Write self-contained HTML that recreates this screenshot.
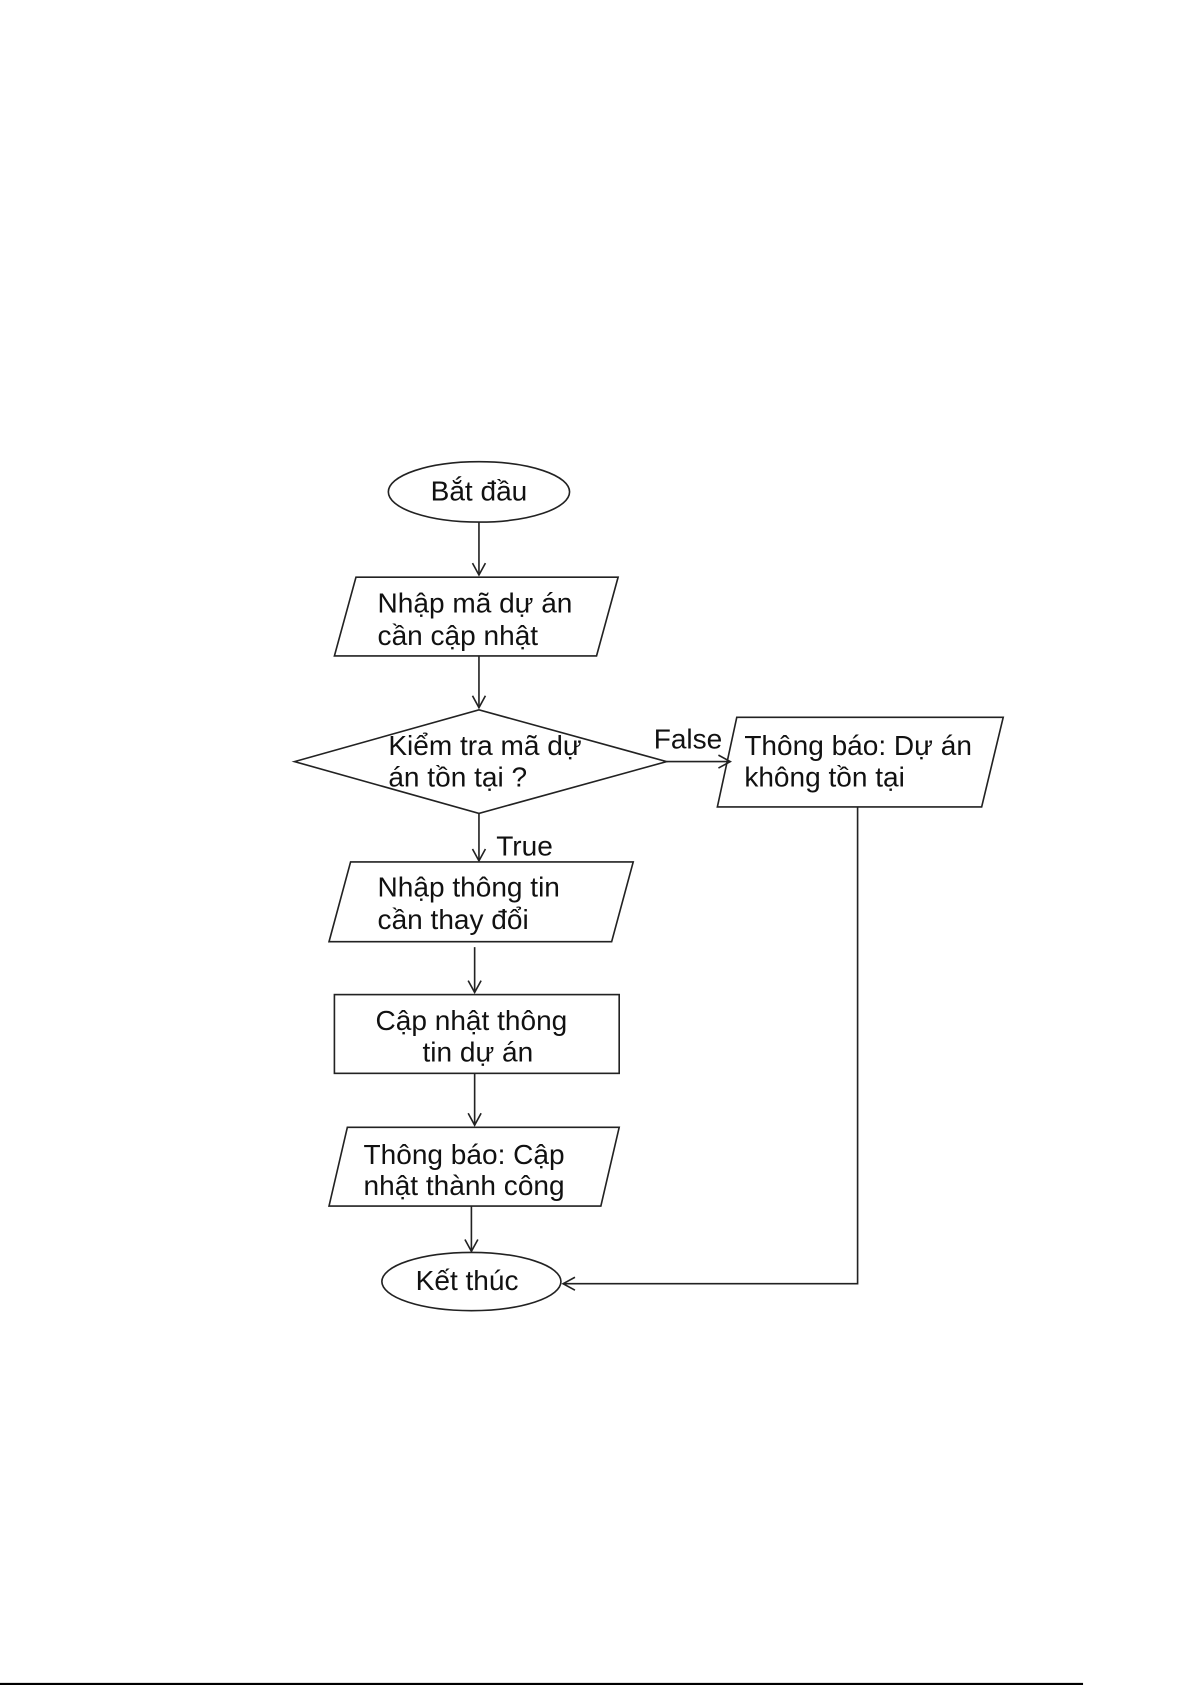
<!DOCTYPE html>
<html><head><meta charset="utf-8"><style>html,body{margin:0;padding:0;background:#fff;}svg{display:block}</style></head>
<body>
<svg width="1192" height="1685" viewBox="0 0 1105 1562" xmlns="http://www.w3.org/2000/svg" font-family="Liberation Sans, Arial, sans-serif" font-size="26" fill="none" stroke="#222" stroke-width="1.5">
<defs><marker id="a" markerWidth="14" markerHeight="14" refX="12" refY="7" orient="auto" markerUnits="userSpaceOnUse"><path d="M1,1 L12,7 L1,13" fill="none" stroke="#222" stroke-width="1.5"/></marker></defs>
<ellipse cx="444" cy="456" rx="84" ry="28"/>
<line x1="444" y1="484" x2="444" y2="533" marker-end="url(#a)"/>
<polygon points="330,535 573,535 553,608 310,608"/>
<line x1="444" y1="608" x2="444" y2="656" marker-end="url(#a)"/>
<polygon points="273,706 444,658 618,706 444,754"/>
<line x1="618" y1="706" x2="677" y2="706" marker-end="url(#a)"/>
<polygon points="683,665 930,665 910,748 665,748"/>
<polyline points="795,748 795,1190 522,1190" marker-end="url(#a)"/>
<line x1="444" y1="754" x2="444" y2="798" marker-end="url(#a)"/>
<polygon points="325,799 587,799 567,873 305,873"/>
<line x1="440" y1="878" x2="440" y2="920" marker-end="url(#a)"/>
<rect x="310" y="922" width="264" height="73"/>
<line x1="440" y1="995" x2="440" y2="1043" marker-end="url(#a)"/>
<polygon points="322,1045 574,1045 557,1118 305,1118"/>
<line x1="437" y1="1118" x2="437" y2="1160" marker-end="url(#a)"/>
<ellipse cx="437" cy="1188" rx="83" ry="27"/>
<line x1="0" y1="1561" x2="1004" y2="1561" stroke="#000" stroke-width="2"/>
<g fill="#111" stroke="none">
<text x="444" y="464" text-anchor="middle">Bắt đầu</text>
<text x="350" y="568">Nhập mã dự án</text>
<text x="350" y="598">cần cập nhật</text>
<text x="360" y="700">Kiểm tra mã dự</text>
<text x="360" y="729">án tồn tại ?</text>
<text x="606" y="694">False</text>
<text x="690" y="700">Thông báo: Dự án</text>
<text x="690" y="729">không tồn tại</text>
<text x="460" y="793">True</text>
<text x="350" y="831">Nhập thông tin</text>
<text x="350" y="861">cần thay đổi</text>
<text x="437" y="955" text-anchor="middle">Cập nhật thông</text>
<text x="443" y="984" text-anchor="middle">tin dự án</text>
<text x="337" y="1079">Thông báo: Cập</text>
<text x="337" y="1108">nhật thành công</text>
<text x="433" y="1196" text-anchor="middle">Kết thúc</text>
</g>
</svg>
</body></html>
